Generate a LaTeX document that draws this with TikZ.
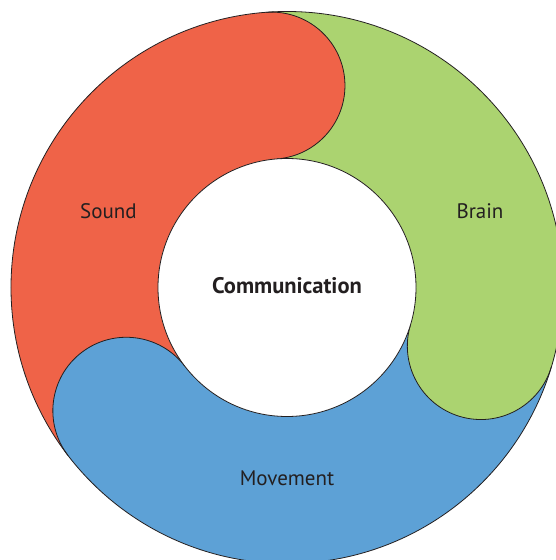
\documentclass[tikz,border=0pt]{standalone}
\usepackage{fontspec}
\setmainfont{PT Sans}
\usetikzlibrary{calc}
\begin{document}
\begin{tikzpicture}[x=1pt,y=1pt,
  outline/.style={draw=inkgray,line width=0.8pt},
  label/.style={text=inkgray,font=\fontsize{21}{25}\selectfont,inner sep=0pt},
  centerlabel/.style={text=inkgray,font=\fontsize{22.5}{27}\selectfont\bfseries,inner sep=0pt}]
\definecolor{inkgray}{HTML}{231F20}
\definecolor{soundred}{HTML}{EF6348}
\definecolor{braingreen}{HTML}{ABD370}
\definecolor{moveblue}{HTML}{5DA1D6}
% ring radii: outer, inner, middle and end-cap radius
\def\Rout{276}
\def\Rin{129}
\def\Rmid{202.5}
\def\Rcap{73.5}
% angles of the three rounded leading ends
\def\aS{94.4}
\def\aB{-16.8}
\def\aM{-142.5}
\useasboundingbox (0,0) rectangle (556,560);
\clip (0,0) rectangle (556,560);
\coordinate (O) at (287,272.5);
% plain ring sectors, each running clockwise up to its rounded end
\fill[soundred]   ($(O)+(\aM+360:\Rout)$) arc[start angle=\aM+360,end angle=\aS,radius=\Rout]
  -- ($(O)+(\aS:\Rin)$) arc[start angle=\aS,end angle=\aM+360,radius=\Rin] -- cycle;
\fill[braingreen] ($(O)+(\aS:\Rout)$) arc[start angle=\aS,end angle=\aB,radius=\Rout]
  -- ($(O)+(\aB:\Rin)$) arc[start angle=\aB,end angle=\aS,radius=\Rin] -- cycle;
\fill[moveblue]   ($(O)+(\aB:\Rout)$) arc[start angle=\aB,end angle=\aM,radius=\Rout]
  -- ($(O)+(\aM:\Rin)$) arc[start angle=\aM,end angle=\aB,radius=\Rin] -- cycle;
% rounded leading ends lying over the start of the next sector
\foreach \a/\col in {\aS/soundred,\aB/braingreen,\aM/moveblue}{
  \fill[\col] ($(O)+(\a:\Rmid)$) circle[radius=\Rcap];
  \draw[outline] ($(O)+(\a:\Rout)$) arc[start angle=\a,end angle=\a-180,radius=\Rcap];
}
% outer rim and the white hub
\draw[outline] (O) circle[radius=\Rout];
\filldraw[outline,fill=white] (O) circle[radius=\Rin];
\node[centerlabel] (comm) at (287,274) {Communication};
\node[label] (sound) at (108.5,349) {Sound};
\node[label] (brain) at (480,349) {Brain};
\node[label] (move) at (287,82) {Movement};
\end{tikzpicture}
\end{document}
